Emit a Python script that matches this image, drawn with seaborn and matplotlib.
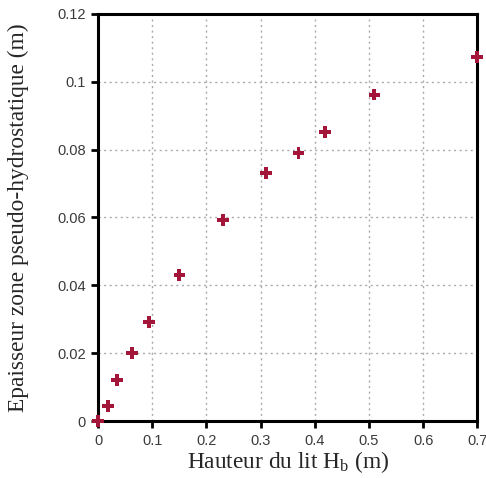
import seaborn as sns
import matplotlib.pyplot as plt
import pandas as pd

# hauteur du lit (m) et epaisseur de la zone pseudo-hydrostatique (m)
hauteur = [0.0, 0.018, 0.035, 0.063, 0.094, 0.150, 0.230, 0.310, 0.370, 0.419, 0.510, 0.700]
epaisseur = [0.0, 0.0044, 0.0121, 0.0200, 0.0292, 0.0431, 0.0593, 0.0731, 0.0790, 0.0852, 0.0962, 0.1072]

x_ticks = [0, 0.1, 0.2, 0.3, 0.4, 0.5, 0.6, 0.7]
y_ticks = [0, 0.02, 0.04, 0.06, 0.08, 0.1, 0.12]
x_labels = ["0", "0.1", "0.2", "0.3", "0.4", "0.5", "0.6", "0.7"]
y_labels = ["0", "0.02", "0.04", "0.06", "0.08", "0.1", "0.12"]

df = pd.DataFrame({"H": hauteur, "e": epaisseur})

sns.set_theme(style="white")
plt.rcParams['font.family'] = ['Liberation Sans', 'DejaVu Sans']

fig, ax = plt.subplots(figsize=(4.86, 4.78), dpi=100)
fig.subplots_adjust(left=0.202, right=0.982, top=0.971, bottom=0.119)

sns.scatterplot(data=df, x="H", y="e", marker="P", s=70, color="#a3163a",
                edgecolor="none", ax=ax, zorder=5, clip_on=False)

ax.set_xlim(0, 0.7)
ax.set_ylim(0, 0.12)
ax.set_xticks(x_ticks)
ax.set_xticklabels(x_labels)
ax.set_yticks(y_ticks)
ax.set_yticklabels(y_labels)

ax.grid(True, linestyle=(0, (1.5, 2.5)), color="#aaaaaa", linewidth=1.0)
ax.set_axisbelow(True)

for sp in ax.spines.values():
    sp.set_linewidth(2.2)
    sp.set_color("black")

ax.tick_params(axis="both", direction="out", length=5, width=2, color="black",
               labelsize=10.5, labelcolor="#3a3a3a", pad=4, bottom=True, left=True)

ax.set_xlabel("Hauteur du lit H$_\\mathregular{b}$ (m)", fontsize=16.8,
              family=["Liberation Serif", "DejaVu Serif"], labelpad=1)
ax.set_ylabel("Epaisseur zone pseudo-hydrostatique (m)", fontsize=16.8,
              family=["Liberation Serif", "DejaVu Serif"], labelpad=20)

plt.savefig("out.png", dpi=100)
